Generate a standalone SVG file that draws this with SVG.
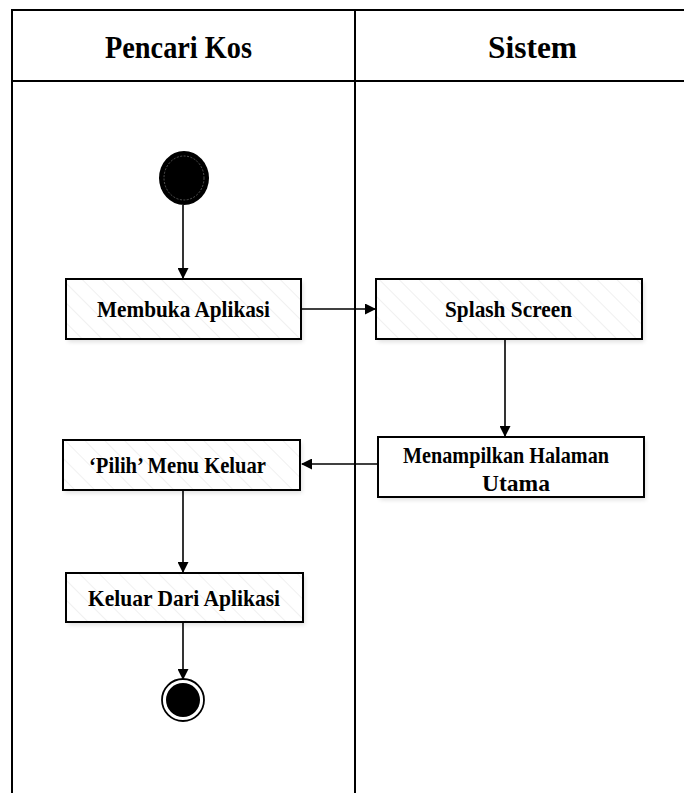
<svg xmlns="http://www.w3.org/2000/svg" width="684" height="793" viewBox="0 0 684 793">
  <style>
    .lane { stroke: #000; stroke-width: 2; fill: none; }
    .box { fill: url(#hatch); stroke: #000; stroke-width: 2; }
    .shadow { fill: #000; opacity: 0.12; filter: url(#soft); }
    .lbl { font-family: "Liberation Serif", "Times New Roman", serif; font-weight: bold; font-size: 23px; fill: #000; }
    .head { font-family: "Liberation Serif", "Times New Roman", serif; font-weight: bold; font-size: 32px; fill: #000; }
    .edge { stroke: #000; stroke-width: 1.6; fill: none; marker-end: url(#arrow); }
  </style>
  <defs>
    <pattern id="hatch" width="14" height="14" patternUnits="userSpaceOnUse" patternTransform="rotate(-45)">
      <rect width="14" height="14" fill="#fff"/>
      <line x1="0" y1="0" x2="0" y2="14" stroke="#f0f0f0" stroke-width="2"/>
    </pattern>
    <filter id="soft" x="-10%" y="-10%" width="120%" height="130%">
      <feGaussianBlur stdDeviation="2"/>
    </filter>
    <marker id="arrow" markerWidth="11" markerHeight="11" refX="10" refY="5.5" orient="auto" markerUnits="userSpaceOnUse">
      <path d="M0,0 L11,5.5 L0,11 z" fill="#000"/>
    </marker>
  </defs>

  <rect width="684" height="793" fill="#fff"/>

  <!-- swimlane frame -->
  <g id="lanes">
    <line class="lane" x1="12" y1="10" x2="684" y2="10"/>
    <line class="lane" x1="12" y1="81" x2="684" y2="81"/>
    <line class="lane" x1="12" y1="9" x2="12" y2="793"/>
    <line class="lane" x1="355" y1="9" x2="355" y2="793"/>
    <text class="head" x="105" y="58" textLength="147" lengthAdjust="spacingAndGlyphs">Pencari Kos</text>
    <text class="head" x="488" y="58" textLength="89" lengthAdjust="spacingAndGlyphs">Sistem</text>
  </g>

  <!-- connectors -->
  <g id="connectors">
    <line class="edge" x1="183" y1="205" x2="183" y2="278"/>
    <line class="edge" x1="301" y1="309" x2="375" y2="309"/>
    <line class="edge" x1="505" y1="339" x2="505" y2="436"/>
    <line class="edge" x1="378" y1="464" x2="302" y2="464"/>
    <line class="edge" x1="183" y1="490" x2="183" y2="572"/>
    <line class="edge" x1="183" y1="622" x2="183" y2="679"/>
  </g>

  <g id="start">
    <ellipse cx="184" cy="178" rx="25" ry="27" fill="#000"/>
    <ellipse cx="184" cy="178" rx="20" ry="22" fill="none" stroke="#666" stroke-width="0.8" stroke-dasharray="2 1.5"/>
  </g>

  <g id="membuka-aplikasi">
    <rect class="shadow" x="68" y="282" width="235" height="60"/>
    <rect class="box" x="66" y="279" width="235" height="60"/>
    <text class="lbl" x="97" y="317" textLength="173" lengthAdjust="spacingAndGlyphs">Membuka Aplikasi</text>
  </g>

  <g id="splash-screen">
    <rect class="shadow" x="378" y="282" width="266" height="60"/>
    <rect class="box" x="376" y="279" width="266" height="60"/>
    <text class="lbl" x="445" y="317" textLength="127" lengthAdjust="spacingAndGlyphs">Splash Screen</text>
  </g>

  <g id="halaman-utama">
    <rect class="shadow" x="380" y="440" width="266" height="60"/>
    <rect x="378" y="437" width="266" height="60" fill="#fff" stroke="#000" stroke-width="2"/>
    <text class="lbl" x="403" y="463" textLength="206" lengthAdjust="spacingAndGlyphs">Menampilkan Halaman</text>
    <text class="lbl" x="482" y="491" textLength="68" lengthAdjust="spacingAndGlyphs">Utama</text>
  </g>

  <g id="pilih-menu-keluar">
    <rect class="shadow" x="65" y="443" width="237" height="50"/>
    <rect class="box" x="63" y="440" width="237" height="50"/>
    <text class="lbl" x="89" y="473" textLength="177" lengthAdjust="spacingAndGlyphs">‘Pilih’ Menu Keluar</text>
  </g>

  <g id="keluar-dari-aplikasi">
    <rect class="shadow" x="68" y="576" width="237" height="49"/>
    <rect class="box" x="66" y="573" width="237" height="49"/>
    <text class="lbl" x="88" y="606" textLength="192" lengthAdjust="spacingAndGlyphs">Keluar Dari Aplikasi</text>
  </g>

  <g id="end">
    <circle cx="183" cy="700" r="21" fill="#fff" stroke="#000" stroke-width="1.8"/>
    <circle cx="183" cy="700" r="17" fill="#000"/>
  </g>
</svg>
